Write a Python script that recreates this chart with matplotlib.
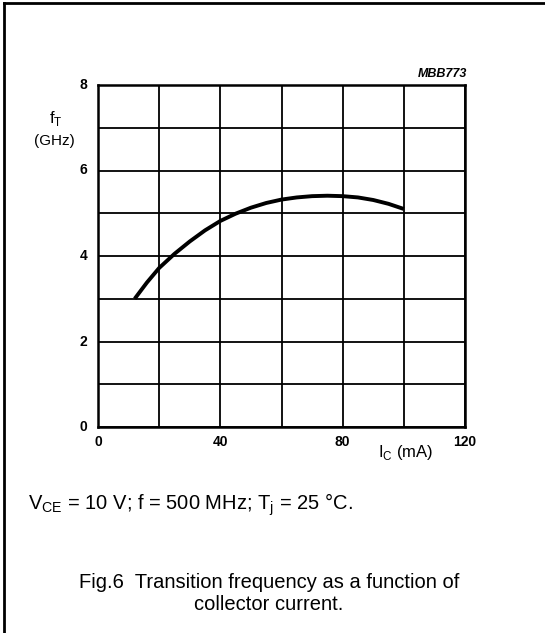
import matplotlib
matplotlib.use("Agg")
import matplotlib.pyplot as plt
from matplotlib.lines import Line2D

plt.rcParams['font.family'] = ['Liberation Sans', 'DejaVu Sans']

ic_ma = [12, 16, 20, 25, 30, 35, 40, 45, 50, 55, 60, 65, 70, 75, 80, 85, 90, 95, 100]
ft_ghz = [3.0, 3.38, 3.72, 4.05, 4.34, 4.60, 4.82, 4.99, 5.13, 5.24, 5.32, 5.37, 5.40, 5.41, 5.40, 5.37, 5.31, 5.22, 5.10]
x_ticks = [0, 40, 80, 120]
y_ticks = [0, 2, 4, 6, 8]

fig = plt.figure(figsize=(5.45, 6.33), dpi=100)
ax = fig.add_axes([98/545, 1-427/633, 367/545, 342/633])
ax.set_xlim(0, 120)
ax.set_ylim(0, 8)
ax.set_xticks(range(0, 121, 20))
ax.set_yticks(range(0, 9, 1))
ax.grid(True, color='black', linewidth=1.3)
ax.tick_params(length=0, labelbottom=False, labelleft=False)
for s in ax.spines.values():
    s.set_linewidth(1.8)
ax.plot(ic_ma, ft_ghz, color='black', linewidth=2.8, solid_capstyle='butt')

for v in x_ticks:
    ax.annotate(str(v), xy=(v, 0), xycoords='data', xytext=(0, -15), textcoords='offset pixels',
                ha='center', va='center', fontsize=10, fontweight='bold')
for v in y_ticks:
    ax.annotate(str(v), xy=(0, v), xycoords='data', xytext=(-11, 0), textcoords='offset pixels',
                ha='right', va='center', fontsize=10, fontweight='bold')

fig.text(56/545, 1-119/633, r'f$_\mathregular{T}$', ha='center', va='center', fontsize=12)
fig.text(54/545, 1-141/633, '(GHz)', ha='center', va='center', fontsize=11)
fig.text(406/545, 1-453/633, r'I$_\mathregular{C}$ (mA)', ha='center', va='center', fontsize=12)
fig.text(467/545, 1-74/633, 'MBB773', ha='right', va='center', fontsize=9, fontstyle='italic', fontweight='bold')

fig.text(28/545, 1-505/633, r'V$_\mathregular{CE}$ = 10 V; f = 500 MHz; T$_\mathregular{j}$ = 25 °C.', ha='left', va='center', fontsize=14.5)
fig.text(269/545, 1-582/633, 'Fig.6  Transition frequency as a function of', ha='center', va='center', fontsize=14.5)
fig.text(269/545, 1-604/633, 'collector current.', ha='center', va='center', fontsize=14.5)

fig.add_artist(Line2D([4/545, 4/545], [0, 1-3/633], transform=fig.transFigure, color='black', linewidth=2))
fig.add_artist(Line2D([4/545, 1], [1-3/633, 1-3/633], transform=fig.transFigure, color='black', linewidth=2))

fig.savefig('out.png', dpi=100)
